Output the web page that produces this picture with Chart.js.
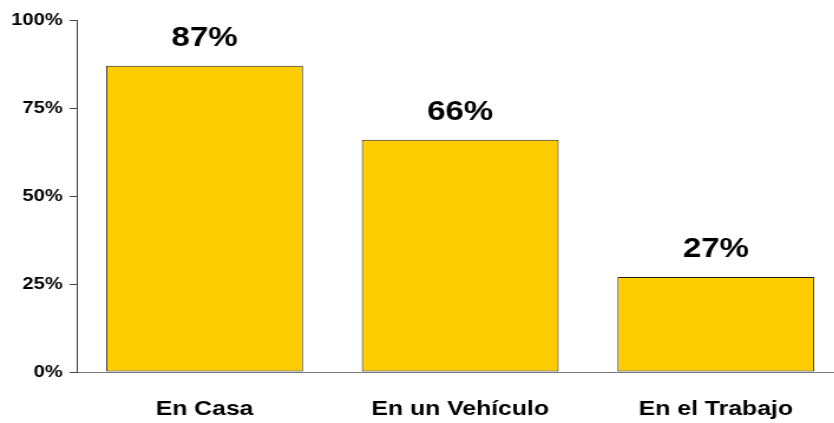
<!DOCTYPE html>
<html>
<head>
<meta charset="utf-8">
<script src="https://cdn.jsdelivr.net/npm/chart.js@4/dist/chart.umd.min.js"></script>
<style>
  html, body { margin: 0; padding: 0; background: #fff; overflow: hidden; }
  /* the reference is stretched sideways, so stretch the canvas the same way */
  #chart { display: block; transform: scaleX(1.18); transform-origin: 0 0; }
</style>
</head>
<body>
<canvas id="chart" width="716" height="423"></canvas>
<script>
const categories = ['En Casa', 'En un Vehículo', 'En el Trabajo'];
const percents = [87, 66, 27];
const yTicks = [0, 25, 50, 75, 100];

const FONT = '"Liberation Sans", Arial, sans-serif';

// value labels above each bar
const valueLabels = {
  id: 'valueLabels',
  afterDatasetsDraw(chart) {
    const ctx = chart.ctx;
    const meta = chart.getDatasetMeta(0);
    ctx.save();
    ctx.font = 'bold 28px ' + FONT;
    ctx.fillStyle = '#000';
    ctx.textAlign = 'center';
    ctx.textBaseline = 'alphabetic';
    meta.data.forEach((bar, i) => {
      ctx.fillText(percents[i] + '%', bar.x, bar.y - 20);
    });
    ctx.restore();
  }
};

let chart = new Chart(document.getElementById('chart'), {
  type: 'bar',
  data: {
    labels: categories,
    datasets: [{
      data: percents,
      backgroundColor: '#FFCC00',
      borderColor: '#222',
      borderWidth: 1,
      borderSkipped: false,
      barPercentage: 0.77,
      categoryPercentage: 1
    }]
  },
  options: {
    responsive: false,
    animation: false,
    layout: { padding: { top: 20, right: 1, left: 0, bottom: 0 } },
    plugins: {
      legend: { display: false },
      tooltip: { enabled: false }
    },
    scales: {
      x: {
        grid: { display: false, drawTicks: false },
        border: { display: true, color: '#777', width: 1 },
        ticks: {
          color: '#000',
          font: { family: FONT, size: 21, weight: 'bold' },
          padding: 25,
          maxRotation: 0
        },
        afterFit(scale) { scale.height = 51; }
      },
      y: {
        min: 0,
        max: 100,
        afterBuildTicks(scale) { scale.ticks = yTicks.map(v => ({ value: v })); },
        grid: { drawOnChartArea: false, drawTicks: true, tickLength: 6, color: '#444' },
        border: { display: true, color: '#444', width: 1 },
        ticks: {
          color: '#000',
          font: { family: FONT, size: 17, weight: 'bold' },
          padding: 6,
          callback: v => v + '%'
        },
        afterFit(scale) { scale.width = 65; }
      }
    }
  },
  plugins: [valueLabels]
});
</script>
</body>
</html>
